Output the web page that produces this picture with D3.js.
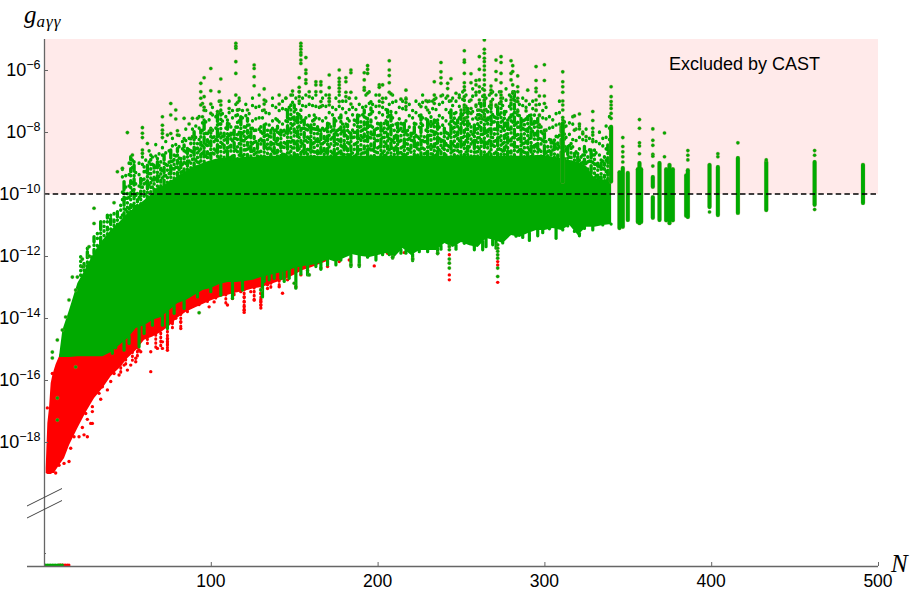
<!DOCTYPE html>
<html>
<head>
<meta charset="utf-8">
<script src="https://cdn.jsdelivr.net/npm/d3@7"></script>
<style>
  html, body { margin: 0; background: #fff; }
  text { font-family: "Liberation Sans", Arial, sans-serif; fill: #000; }
  .math { font-family: "Liberation Serif", serif; font-style: italic; }
</style>
</head>
<body>
<script>
// y values are log10(g)

var xTicks = [100, 200, 300, 400, 500]
var yTicks = [-6, -8, -10, -12, -14, -16, -18]
var castLimit = -10

// solid part of the green cloud
var bodyN = [9, 11, 15, 20, 25, 30, 35, 40, 45, 50, 55, 60, 65, 70, 75, 80, 85, 90, 95, 100, 105, 110, 115, 120, 125, 130, 135, 140, 145, 150, 155, 160, 165, 170, 175, 180, 185, 190, 195, 200, 205, 210, 215, 220, 225, 230, 235, 240, 245, 250, 255, 260, 265, 270, 275, 280, 285, 290, 295, 300, 305, 310, 315, 320, 325, 330, 335, 340]
var bodyTop = [-15.23, -14.39, -13.74, -12.87, -12.39, -11.87, -11.48, -11.16, -10.9, -10.61, -10.42, -10.19, -9.97, -9.77, -9.61, -9.42, -9.26, -9.1, -9, -8.9, -8.84, -8.84, -8.84, -8.8, -8.8, -8.77, -8.77, -8.77, -8.77, -8.77, -8.77, -8.77, -8.77, -8.77, -8.77, -8.77, -8.77, -8.77, -8.77, -8.77, -8.77, -8.77, -8.77, -8.77, -8.77, -8.77, -8.77, -8.77, -8.77, -8.77, -8.77, -8.77, -8.77, -8.77, -8.77, -8.77, -8.77, -8.77, -8.74, -8.74, -8.8, -8.84, -8.9, -8.97, -9.1, -9.48, -9.55, -9.48]
var bodyBottom = [-15.26, -15.26, -15.26, -15.23, -15.23, -15.23, -15.23, -15.1, -14.87, -14.65, -14.32, -14.23, -14.06, -13.97, -13.74, -13.52, -13.42, -13.26, -13.1, -13.03, -12.9, -12.84, -12.84, -12.81, -12.77, -12.68, -12.61, -12.55, -12.48, -12.39, -12.32, -12.29, -12.23, -12.1, -12.19, -12.06, -11.94, -12, -12.03, -11.97, -11.9, -12.03, -11.74, -11.97, -11.81, -11.81, -11.81, -11.58, -11.71, -11.55, -11.65, -11.71, -11.42, -11.48, -11.58, -11.32, -11.39, -11.26, -11.16, -11.16, -11.1, -11.16, -11, -11.32, -11.06, -11.06, -11, -10.97]

// red cloud, mostly hidden under the green one
var redN = [1, 2, 3, 4, 5, 6, 7, 9, 12, 15, 18, 20, 25, 30, 35, 40, 45, 50, 55, 60, 65, 70, 75, 80, 85, 90, 95, 100, 105, 110, 115, 120, 125, 130, 135, 140, 145, 150, 155, 160, 165, 170]
var redTop = [-18.84, -17.39, -16.9, -16.1, -15.84, -15.65, -15.48, -15.23, -14.74, -14.39, -13.58, -13.1, -12.77, -12.45, -12, -11.5, -11.5, -11.5, -11.5, -11.5, -11.5, -11.5, -11.5, -11.5, -11.5, -11.5, -11.5, -11.5, -11.5, -11.5, -11.5, -11.5, -11.5, -11.5, -11.5, -11.5, -11.5, -11.5, -11.5, -11.5, -11.5, -11.5]
var redBottom = [-19, -19.03, -19.03, -19.03, -19, -19, -18.9, -18.74, -18.52, -18.1, -17.77, -17.55, -17.03, -16.58, -16.26, -15.87, -15.61, -15.29, -15.03, -14.7, -14.6, -14.45, -14.25, -13.98, -13.8, -13.67, -13.55, -13.43, -13.33, -13.25, -13.18, -13.12, -13.05, -13, -12.92, -12.82, -12.73, -12.6, -12.45, -12.36, -12.26, -12.15]

// speckled fringe above the solid part, N goes 22, 24, ... 340
var fringeN = d3.range(22, 341, 2)
var fringeTop = [-12.02, -12.24, -11.75, -12.02, -11.38, -11.27, -10.89, -10.89, -10.68, -10.68, -10.63, -10.57, -10.36, -9.6, -9.98, -8.8, -8.96, -9.98, -9.5, -9.12, -9.07, -8.74, -9.07, -8.85, -8.96, -8.74, -9.07, -8.58, -8.74, -8.53, -8.85, -8.21, -8.53, -8.21, -7.99, -8.37,
  -7.94, -7.61, -8.04, -7.88, -8.15, -7.4, -7.29, -8.04, -7.61, -7.83, -7.94, -7.29, -7.51, -7.83, -7.56, -7.88, -7.94, -8.37, -7.83, -7.77, -7.94, -7.94, -7.94, -7.61, -7.94, -7.94, -7.29, -7.13, -7.13, -7.4, -7.29, -7.61, -7.77, -7.77, -7.45, -7.83, -7.94, -7.94, -7.72, -7.83, -7.56, -7.94, -7.45, -7.83, -7.56, -8.04, -7.61, -7.45, -7.67, -7.29, -7.56, -7.02, -7.94, -7.72, -7.72, -7.72, -7.29, -7.34, -7.94, -7.72, -7.72, -7.72, -7.94, -8.04, -7.72, -8.15, -7.45, -8.15, -7.61, -7.51, -7.61, -7.61,
  -8.04, -7.88, -8.04, -7.29, -7.4, -7.61, -7.29, -6.97, -7.24, -7.83, -7.77, -7.29, -7.08, -6.86, -7.34, -7.08, -7.51, -7.18, -7.08, -7.34, -7.61, -6.86, -6.7, -7.29, -7.56, -7.61, -7.51, -7.45, -7.45, -7.56, -7.83, -7.94, -8.47, -8.26, -8.26, -8.15, -7.83, -7.67, -8.47, -8.37, -8.69, -8.69, -8.8, -8.47, -8.8, -8.58, -8.58, -9.01, -8.9, -8.8, -8.42, -7.94]

// thinner scatter above the fringe, N goes 47, 49, ... 339
var scatterN = d3.range(47, 340, 2)
var scatterTop = [-9.2, -9.4, -9, -8.9, -9.3, -9, -8.8,
  -8.9, -8.6, -8.8, -8.4, -8.7, -8.5, -8.3, -8.6, -8.2, -8.4, -8.1, -8.3, -7.9, -8.2, -7.9,
  -7.8, -7.5, -7.7, -7.3, -7.6, -7.2, -7.5, -7, -7.4, -7.5, -7, -7.3, -7.1, -6.9, -7.3,
  -7.1, -7.4, -6.9, -7.2, -6.8, -7.3, -7, -7.4, -6.9, -7.2, -7.3, -7, -6.9, -7.2, -6.8,
  -6.9, -6.7, -6.9, -6.8, -7.1, -6.9, -6.8, -7.2, -6.9, -6.8, -7, -7.2, -6.9, -6.8, -7,
  -7, -6.9, -7.2, -6.9, -7.1, -7.2, -6.8, -6.7, -7.1, -6.8, -7, -7.2, -6.9, -7.1, -6.8,
  -7, -7.2, -7, -6.9, -7.1, -7.3, -7, -7.1, -6.8, -7.2, -7, -7, -6.9, -7.1, -6.8,
  -6.9, -7, -6.9, -7, -6.8, -6.7, -6.8, -7, -6.6, -6.8, -6.7, -6.6, -6.9, -6.8, -6.7,
  -6.8, -6.7, -6.9, -6.6, -6.8, -6.7, -7, -7.1, -6.9, -7.2, -7.1, -7, -7.3, -7.1, -7.3,
  -7.2, -7.5, -7.6, -7.4, -7, -7.6, -7.8, -7.7, -7.5, -7.9, -7.8, -8, -7.9, -8.2, -8,
  -8.3, -8, -8.2, -7.8, -7.5]

// spikes hanging below the solid edges
var dripGreenN = [41, 43, 48, 51, 57, 60, 65, 71, 74, 78, 84, 92, 100, 106, 113, 119, 131, 132, 135, 138, 142, 144, 147, 151, 154, 158, 163, 166, 170, 175, 178, 184, 189, 194, 199, 203, 207, 209, 214, 217, 221, 225, 230, 236, 238, 243, 247, 252, 258, 263, 265, 269, 271, 275, 283, 287, 291, 296, 299, 303, 307, 311, 314, 318, 321, 324, 329, 335, 340]
var dripGreenLow = [-15.14, -14.87, -15.04, -14.82, -14.93, -14.5, -14.23, -14.23, -14.34, -13.85, -13.69, -13.32, -13.15, -13.26, -13.37, -13.1, -13.32, -12.82, -12.77, -12.72, -12.72, -12.82, -12.72, -13.04, -12.58, -12.61, -12.34, -12.43, -12.29, -12.29, -12.13, -12.34, -12.34, -12.04, -12.13, -11.96, -11.96, -12.07, -11.91, -11.91, -12.15, -11.86, -11.86, -11.93, -11.78, -11.64, -11.78, -11.59, -11.8, -11.8, -11.7, -11.64, -11.75, -11.54, -11.32, -11.4, -11.5, -11.35, -11.25, -11.11, -11.43, -11.16, -11, -11.21, -11.35, -11, -11.16, -11, -10.97]
var dripRedN = [42, 46, 49, 53, 56, 62, 67, 70, 74, 77, 82, 86, 93, 98, 103, 109, 114, 120, 126, 130, 136, 141]
var dripRedLow = [-15.63, -15.84, -15.57, -15.36, -15.3, -14.82, -14.98, -14.93, -15.04, -14.39, -14.34, -13.85, -13.58, -13.53, -13.42, -13.58, -13.32, -13.8, -13.42, -13.69, -13.1, -13]

// the separate thick columns at large N
var stripN = [340, 311, 345, 347, 350, 356, 357, 358, 365, 365, 369, 373, 375, 377, 385, 386, 399, 404, 416, 433, 462, 491]
var stripHigh = [-7.83, -7.72, -9.3, -9.16, -9.32, -9.2, -9, -9.2, -10.1, -9.45, -9, -9.2, -9.06, -9.2, -9.4, -9.23, -9.06, -9.13, -8.84, -8.97, -8.97, -9.06]
var stripLow = [-9.6, -9.6, -11.1, -11.06, -10.84, -10.9, -10.94, -10.9, -10.77, -9.77, -10.84, -10.85, -10.94, -10.85, -10.7, -10.74, -10.42, -10.68, -10.61, -10.52, -10.35, -10.29]

// isolated green points, each row is N and then its exponents
var greenPoints = [
  [5, -15.1, -15.29], [8, -14.71, -16.58, -17.29], [11, -14.39], [13, -13.97], [15, -13.42], [17, -12.68], [19, -13.1, -15.58], [20, -12.68], [23, -12.35, -12.1], [27, -11.7, -12],
  [30, -10.46, -10.95], [42, -10.28], [44, -9.28], [47, -9.17], [50, -8.02], [53, -8.74], [59, -7.86, -8.04, -8.18, -8.58, -8.69], [62, -8.37],
  [71, -7.51, -7.78, -7.94, -8.05, -8.18], [74, -8.1], [76, -7.08, -7.45, -8.05], [79, -7.29, -7.58], [80, -7.96, -8.1], [84, -7.56], [87, -7.74], [89, -7.56, -8.17], [92, -7.56], [95, -7.08, -7.51], [96, -6.25, -6.86, -7.2, -7.3], [94, -6.43, -6.7, -6.91, -7.13],
  [100, -5.95, -6.67, -7.1, -7.4, -7.94], [104, -7.34], [105, -6.7], [106, -6.29, -7, -7.13], [111, -7.24], [115, -5.14, -5.23, -5.3, -5.73, -6.11, -6.81], [116, -7.05, -7.29], [117, -6.99], [122, -7.29], [126, -5.84, -5.95, -6.22, -6.51], [132, -6.61, -6.97, -7.1, -7.29],
  [141, -6.81, -7.1], [145, -6.91], [148, -6.81], [149, -6.68], [153, -6.25, -6.56, -6.7, -6.86, -7], [154, -5.14, -5.23, -5.33, -5.44, -5.52, -5.68, -5.79], [157, -5.6, -6, -6.11, -6.32, -6.43], [159, -6.7, -6.86], [163, -6.38, -6.48, -6.7], [166, -6.38, -6.48, -6.7, -7.02, -7.18],
  [171, -6.16, -6.57, -6.81, -6.91, -7.02, -7.13], [177, -6, -6.27, -6.38, -6.48, -6.59, -6.7, -7.02], [181, -6.25, -6.38, -6.72, -6.86], [183, -6.91], [184, -6, -6.09, -6.72, -7.1], [192, -6.09, -6.32, -6.57, -6.65], [194, -5.86, -5.98, -6.11, -6.75],
  [201, -6.48, -6.56, -6.81, -7.16], [203, -6.48, -6.91, -7.04], [207, -5.7, -6, -6.18, -6.41, -6.72], [208, -6.77], [214, -6.94], [217, -6.65, -6.94, -7.05, -7.18], [226, -7.18], [229, -6.99], [230, -7.02, -7.29], [234, -6.38, -6.81, -6.95, -7.08], [238, -5.76, -6.06, -6.25, -6.43, -6.84],
  [242, -6.43, -6.6, -6.84], [244, -6.28, -6.99], [247, -6.75], [249, -6.89], [252, -5.38, -5.68, -5.75, -6.11, -6.41, -6.54, -6.65, -6.86, -7.13, -7.29, -7.56], [256, -6.12, -6.41, -6.97, -7.24, -7.4], [259, -6.34, -6.48, -6.72, -7.13], [261, -5.57, -5.98, -6.32, -6.54, -6.7, -6.97, -7.29, -7.56],
  [264, -5.03, -5.33, -5.46, -5.62, -5.73, -5.87, -6, -6.16, -6.32, -6.48, -6.65, -6.81, -6.97, -7.29, -7.51], [268, -6.52, -6.65, -6.75, -7.02, -7.13], [271, -5.68, -6.05, -6.32, -7.13], [274, -5.57, -5.76, -6.11, -6.41, -6.7, -6.81, -6.91, -7.02], [280, -5.7, -6.11, -6.32, -6.97], [281, -5.86, -6.05, -6.48, -6.75], [284, -6.19, -6.54, -6.7, -6.91, -7.02, -7.34], [289, -6.99, -7.32], [290, -6.65],
  [295, -5.89, -6.34, -6.59, -6.7, -6.97, -7.13, -7.29], [297, -6.84, -7.45, -7.77], [300, -5.83, -6.34, -6.84, -7.08, -7.96], [311, -6.06, -6.38, -6.54, -6.72, -7, -7.13, -7.29, -7.53], [318, -7.48, -7.94], [321, -7.42, -7.74, -7.9], [323, -8.06], [325, -8.15], [329, -7.34, -7.63, -7.88, -8.1, -8.31],
  [340, -6.54, -6.86, -7.02, -7.13, -7.24, -7.4, -7.56], [347, -8.18, -8.47, -8.64, -8.8, -8.97], [357, -7.6, -7.88, -8.35, -8.45, -8.7], [365, -7.9, -8.27, -8.43, -8.72, -8.78, -9.1], [372, -8.03, -8.8], [386, -8.6, -8.75, -8.9], [399, -10.58], [404, -8.7, -8.8], [416, -8.35], [462, -8.6, -8.75, -10.5], [433, -8.9],
  [93, -13.83], [150, -12.88], [159, -12.61], [184, -12.29], [189, -12.29], [236, -11.91], [221, -12.1], [209, -12.04], [130, -13.1],
  [243, -11.7, -11.8, -12.1, -12.23, -12.39], [272, -11.64, -11.75, -11.85, -11.96, -12.07, -12.39, -12.66]
]

// isolated red points
var redPoints = [
  [2, -16.9], [5, -15.79], [7, -19], [9, -18.75], [12, -18.69], [15, -18.63], [16, -18.2], [18, -17.83], [21, -17.83], [23, -17.53], [24, -17.77], [25, -17.08], [26, -17.83, -17.27], [28, -17.4], [29, -17.02, -16.86, -17.4],
  [33, -16.43], [34, -16.62], [35, -16.22], [38, -16.32], [40, -16.05], [42, -15.79], [45, -15.84], [48, -15.52], [50, -15.68], [52, -15.52], [55, -15.41, -15.3], [57, -15.03], [58, -15.09], [64, -15.09, -15.73], [68, -14.98],
  [71, -14.77, -14.98], [74, -14.66, -14.77, -14.87, -15.04], [77, -14.12], [79, -14.01], [82, -14.34, -14.12], [88, -13.64], [91, -13.48], [99, -13.64], [102, -13.48], [110, -13.58], [113, -13.37], [118, -13.15], [120, -13.32, -13.48, -13.64, -13.75, -13.82], [124, -13.15], [126, -13.42],
  [130, -12.88, -13.21, -13.41, -13.48, -13.57, -13.68], [134, -12.93, -13.05], [137, -12.72], [141, -12.99], [143, -13.2], [146, -12.77], [151, -13], [154, -12.61], [158, -12.47], [166, -12.39], [170, -12.34], [177, -12.18], [183, -12.13], [194, -12.02], [198, -12.32], [201, -11.89], [206, -11.91], [216, -11.89],
  [243, -11.96, -12.61, -12.77], [272, -12.18, -12.29, -12.85]
]

// points with g = 0, below the axis break
var zeroGreenN = [1, 2, 3, 4, 5, 6, 7, 8, 9, 10, 11]
var zeroRedN = [9, 10, 11, 12, 13, 14, 15]

var width = 914, height = 594
var left = 44, right = 878, top0 = 39, bottomY = 566

var x = d3.scaleLinear().domain([0, 500]).range([left, right])
var y = d3.scaleLinear().domain([-5, -18]).range([top0, 442])

var green = '#0a0', red = '#f00', halo = '#b4905a'
var speckles = ['0.4 4.2', '3 3.6 0.4 5', '0.4 3 6 4.4', '0.4 6 2 3.6', '5 3.2 0.4 4', '0.4 4.4 0.4 7', '8 3.4 0.4 3.8']

var svg = d3.select(document.body).append('svg')
  .attr('width', width)
  .attr('height', height)
  .style('display', 'block')

svg.append('defs').append('clipPath').attr('id', 'plot')
  .append('rect')
  .attr('x', left).attr('y', top0)
  .attr('width', right - left).attr('height', bottomY - top0 + 4)

// excluded region
svg.append('rect')
  .attr('x', x(0)).attr('y', y(-5))
  .attr('width', x(500) - x(0))
  .attr('height', y(castLimit) - y(-5))
  .attr('fill', '#ffeaea')

var marks = svg.append('g').attr('clip-path', 'url(#plot)')

function flatten(rows) {
  var out = []
  rows.forEach(function(row) {
    row.slice(1).forEach(function(e) { out.push([row[0], e]) })
  })
  return out
}

// vertical strand helper, values are N and the two exponents come from functions
function strands(data, hi, lo, color, w, dash) {
  return marks.append('g').selectAll('line').data(data).enter().append('line')
    .attr('x1', function(d) { return x(d) })
    .attr('x2', function(d) { return x(d) })
    .attr('y1', function(d, i) { return y(hi(d, i)) })
    .attr('y2', function(d, i) { return y(lo(d, i)) })
    .attr('stroke', color)
    .attr('stroke-width', w)
    .attr('stroke-linecap', 'round')
    .attr('stroke-dasharray', dash || null)
}

var topAt = d3.scaleLinear().domain(bodyN).range(bodyTop).clamp(true)
var bottomAt = d3.scaleLinear().domain(bodyN).range(bodyBottom).clamp(true)
var fringeAt = d3.scaleLinear().domain(fringeN).range(fringeTop).clamp(true)

var redArea = d3.area()
  .x(function(d) { return x(d) })
  .y0(function(d, i) { return y(redBottom[i]) })
  .y1(function(d, i) { return y(redTop[i]) })

marks.append('path').datum(redN).attr('d', redArea).attr('fill', red)

strands(dripRedN, bottomAt, function(d, i) { return dripRedLow[i] }, red, 3, '0.6 3.4')

marks.append('g').selectAll('circle').data(flatten(redPoints)).enter().append('circle')
  .attr('cx', function(d) { return x(d[0]) })
  .attr('cy', function(d) { return y(d[1]) })
  .attr('r', 1.7)
  .attr('fill', red)

marks.append('g').selectAll('circle').data(zeroRedN).enter().append('circle')
  .attr('cx', function(d) { return x(d) })
  .attr('cy', bottomY - 1)
  .attr('r', 1.5)
  .attr('fill', red)

marks.append('g').selectAll('circle').data(zeroGreenN).enter().append('circle')
  .attr('cx', function(d) { return x(d) })
  .attr('cy', bottomY - 1)
  .attr('r', 1.5)
  .attr('fill', green)

var bodyArea = d3.area()
  .x(function(d) { return x(d) })
  .y0(function(d, i) { return y(bodyBottom[i]) })
  .y1(function(d, i) { return y(bodyTop[i]) })

marks.append('path').datum(bodyN).attr('d', bodyArea).attr('fill', green)

strands(dripGreenN, bottomAt, function(d, i) { return dripGreenLow[i] }, green, 3.2)

// scatter first, then the denser fringe
strands(scatterN, function(d, i) { return scatterTop[i] }, function(d) { return Math.min(fringeAt(d), topAt(d)) }, green, 3.3, '0.4 11')
  .attr('stroke-dasharray', function(d, i) { return i % 3 ? '0.4 11' : '0.4 7 0.4 15' })

strands(fringeN, function(d, i) { return fringeTop[i] }, function(d) { return topAt(d) - 0.05 }, green, 3.4)
  .attr('stroke-dasharray', function(d, i) { return speckles[i % speckles.length] })

// thick columns with a faint edge
strands(stripN, function(d, i) { return stripHigh[i] }, function(d, i) { return stripLow[i] }, halo, 4.6)
  .attr('stroke-opacity', 0.5)
strands(stripN, function(d, i) { return stripHigh[i] }, function(d, i) { return stripLow[i] }, green, 3.9)

marks.append('g').selectAll('circle').data(flatten(greenPoints)).enter().append('circle')
  .attr('cx', function(d) { return x(d[0]) })
  .attr('cy', function(d) { return y(d[1]) })
  .attr('r', 1.8)
  .attr('fill', green)
  .attr('stroke', halo)
  .attr('stroke-opacity', 0.55)
  .attr('stroke-width', 0.5)

// CAST limit
svg.append('line')
  .attr('x1', x(0)).attr('x2', x(500))
  .attr('y1', y(castLimit)).attr('y2', y(castLimit))
  .attr('stroke', '#000')
  .attr('stroke-width', 1.6)
  .attr('stroke-dasharray', '5.5 3.2')

// axes
var yAxis = svg.append('g')
  .attr('transform', 'translate(' + left + ',0)')
  .call(d3.axisLeft(y).tickValues(yTicks).tickSizeInner(-4).tickSizeOuter(0).tickFormat(''))
yAxis.select('.domain').remove()
yAxis.selectAll('line').attr('stroke', '#666').attr('stroke-width', 1)

var xAxis = svg.append('g')
  .attr('transform', 'translate(0,' + bottomY + ')')
  .call(d3.axisBottom(x).tickValues(xTicks).tickSizeInner(-4).tickSizeOuter(0).tickFormat(''))
xAxis.select('.domain').remove()
xAxis.selectAll('line').attr('stroke', '#666').attr('stroke-width', 1)

svg.append('line')
  .attr('x1', left + 0.5).attr('x2', left + 0.5)
  .attr('y1', top0).attr('y2', bottomY)
  .attr('stroke', '#666').attr('stroke-width', 1.3)
svg.append('line')
  .attr('x1', 27).attr('x2', right)
  .attr('y1', bottomY + 0.5).attr('y2', bottomY + 0.5)
  .attr('stroke', '#666').attr('stroke-width', 1.3)

// small tick for the zero level below the break
svg.append('line')
  .attr('x1', left).attr('x2', left + 2)
  .attr('y1', 553.5).attr('y2', 553.5)
  .attr('stroke', '#666')

// axis break
;[506, 518].forEach(function(b) {
  svg.append('line')
    .attr('x1', 27).attr('x2', 62)
    .attr('y1', b).attr('y2', b - 17.5)
    .attr('stroke', '#444').attr('stroke-width', 1)
})

// tick labels
yTicks.forEach(function(t) {
  var label = svg.append('text')
    .attr('x', 40.5)
    .attr('y', y(t) + 6)
    .attr('text-anchor', 'end')
  label.append('tspan').attr('font-size', 18).text('10')
  label.append('tspan').attr('font-size', 12.5).attr('dy', -7).text('\u2212' + (-t))
})

svg.selectAll('.xlabel').data(xTicks).enter().append('text')
  .attr('class', 'xlabel')
  .attr('x', function(d) { return x(d) })
  .attr('y', 587)
  .attr('text-anchor', 'middle')
  .attr('font-size', 17.5)
  .text(function(d) { return d })

svg.append('text')
  .attr('x', 669).attr('y', 69.5)
  .attr('font-size', 18)
  .text('Excluded by CAST')

// axis titles
var gLabel = svg.append('text').attr('class', 'math').attr('x', 24).attr('y', 23)
gLabel.append('tspan').attr('font-size', 25).text('g')
gLabel.append('tspan').attr('font-size', 17).attr('dy', 4).attr('letter-spacing', 1).text('a\u03b3\u03b3')

svg.append('text')
  .attr('class', 'math')
  .attr('x', 891).attr('y', 572)
  .attr('font-size', 25)
  .text('N')
</script>
</body>
</html>
